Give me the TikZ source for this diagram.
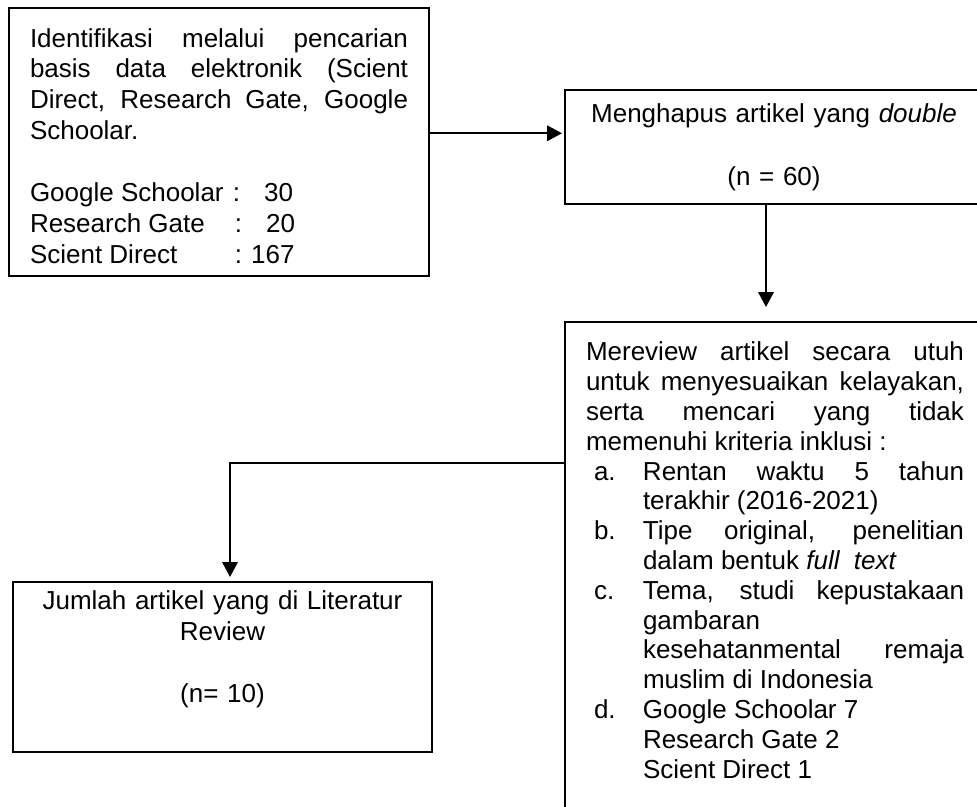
\documentclass[tikz,border=0pt]{standalone}
\usepackage{fontspec}
\setmainfont{Liberation Sans}
\usetikzlibrary{arrows.meta}
\setlength{\parindent}{0pt}
\hyphenpenalty=10000
\exhyphenpenalty=10000
\tolerance=9999
\newcommand{\butir}[1]{\par\leftskip=57pt\noindent\llap{\makebox[49pt][l]{#1}}}

\begin{document}
\begin{tikzpicture}[x=1pt,y=-1pt,
  kotak/.style={draw=black,line width=2pt,anchor=north west,inner xsep=21pt},
  panah/.style={line width=2pt,-{Triangle[length=15pt,width=15.5pt]}}]
\useasboundingbox (0,0) rectangle (977,806);
\clip (0,0) rectangle (977,806);

\node[kotak,align=justify,text width=378pt,inner ysep=12pt,font=\fontsize{26}{30.9}\selectfont] (A) at (8,7) {\rule{0pt}{27pt}Identifikasi melalui pencarian\linebreak basis data elektronik (Scient\linebreak Direct, Research Gate, Google\linebreak Schoolar.\par
\mbox{}\par
\makebox[203pt][l]{Google Schoolar}:\hspace{24pt}30\par
\makebox[205pt][l]{Research Gate}:\hspace{24pt}20\par
\makebox[205pt][l]{Scient Direct}:\hspace{9pt}167};

\node[kotak,align=center,text width=376pt,inner ysep=0pt,minimum height=114pt,font=\fontsize{26}{31.5}\selectfont] (B) at (564,89) {Menghapus artikel yang \textit{double}\\ \mbox{}\\ (n = 60)};

\node[kotak,align=justify,text width=378pt,inner ysep=20pt,font=\fontsize{26}{29.8}\selectfont] (C) at (564,321) {Mereview artikel secara utuh\linebreak untuk menyesuaikan kelayakan,\linebreak serta mencari yang tidak\linebreak memenuhi kriteria inklusi :
\butir{a.}Rentan waktu 5 tahun\linebreak terakhir (2016-2021)
\butir{b.}Tipe original, penelitian\linebreak dalam bentuk \textit{full\ \ text}
\butir{c.}Tema, studi kepustakaan\linebreak gambaran\newline kesehatanmental remaja\linebreak muslim di Indonesia
\butir{d.}Google Schoolar 7\newline Research Gate 2\newline Scient Direct 1\par\mbox{}};

\node[kotak,align=center,text width=377pt,inner ysep=9pt,font=\fontsize{26}{30.9}\selectfont] (D) at (12,581) {Jumlah artikel yang di Literatur\\ Review\\ \mbox{}\\ (n= 10)\\ \strut};

\draw[panah,shorten >=2pt] ([yshift=8.5pt]A.east) -- ([yshift=8.5pt]A.east -| B.west);
\draw[panah,shorten >=14pt] ([xshift=-8pt]B.south) -- ([xshift=-8pt]B.south |- C.north);
\draw[panah,shorten >=4pt] ([yshift=-142pt]C.north west) -| ([xshift=7.5pt]D.north);
\end{tikzpicture}
\end{document}
